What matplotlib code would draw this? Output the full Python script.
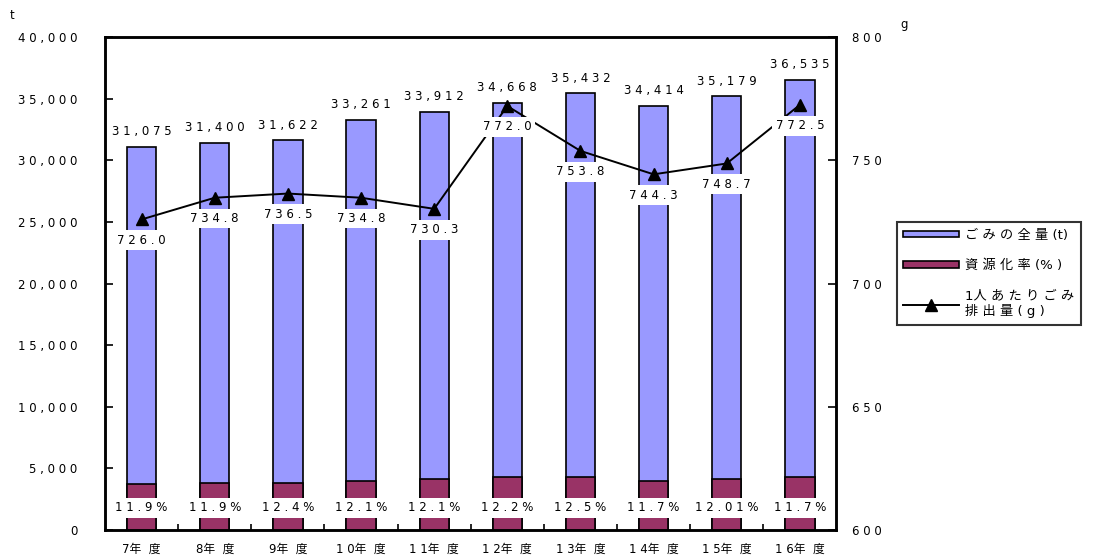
import numpy as np
import matplotlib
matplotlib.use("Agg")
import matplotlib.pyplot as plt
from matplotlib.lines import Line2D
from matplotlib.patches import Patch

plt.rcParams['font.family'] = ['DejaVu Sans', 'Noto Sans CJK JP']

# ======= data =======
years = ['7年度', '8年度', '9年度', '10年度', '11年度', '12年度', '13年度', '14年度', '15年度', '16年度']
total = [31075, 31400, 31622, 33261, 33912, 34668, 35432, 34414, 35179, 36535]
resource = [3700, 3850, 3850, 4000, 4150, 4300, 4300, 4000, 4150, 4300]
rate_labels = ['11.9%', '11.9%', '12.4%', '12.1%', '12.1%', '12.2%', '12.5%', '11.7%', '12.01%', '11.7%']
per_person = [726.0, 734.8, 736.5, 734.8, 730.3, 772.0, 753.8, 744.3, 748.7, 772.5]


def sp(s):
    # excel-like letter spacing
    return ' '.join(s)


blue = '#9999FF'
maroon = '#993366'
fs = 8.5

fig = plt.figure(figsize=(10.95, 5.57), dpi=100)
ax = fig.add_axes([0.0959, 0.0485, 0.668, 0.885])
ax2 = ax.twinx()

x = np.arange(len(years))
bw = 0.4
ax.bar(x, total, bw, color=blue, edgecolor='black', linewidth=1.2, zorder=2)
ax.bar(x, resource, bw, color=maroon, edgecolor='black', linewidth=1.2, zorder=3)

for xi, v in zip(x, total):
    ax.text(xi, v + 700, sp(f'{v:,}'), ha='center', va='bottom', fontsize=fs, zorder=5)

for xi, t in zip(x, rate_labels):
    ax.text(xi, 1800, sp(t), ha='center', va='center', fontsize=fs, zorder=5,
            bbox=dict(facecolor='white', edgecolor='none', pad=2.5))

ax2.plot(x, per_person, color='black', lw=1.4, marker='^', markersize=9, zorder=3)
for xi, v in zip(x, per_person):
    ax2.annotate(sp(f'{v:.1f}'), (xi, v), xytext=(0, -15), textcoords='offset points',
                 ha='center', va='center', fontsize=fs, zorder=6,
                 bbox=dict(facecolor='white', edgecolor='none', pad=2.5))

ax.set_xlim(-0.5, len(years) - 0.5)
ax.set_ylim(0, 40000)
ax2.set_ylim(600, 800)
ax.set_yticks(np.arange(0, 40001, 5000))
ax.set_yticklabels([sp(f'{v:,}') for v in range(0, 40001, 5000)], fontsize=fs)
ax2.set_yticks([600, 650, 700, 750, 800])
ax2.set_yticklabels([sp(str(v)) for v in [600, 650, 700, 750, 800]], fontsize=fs)
ax.set_xticks(x)
ax.set_xticklabels([sp(y[:-2]) + '年  度' for y in years], fontsize=fs)
ax.set_xticks(np.arange(0.5, len(years) - 1, 1), minor=True)
ax.tick_params(axis='x', which='major', length=0, pad=9)
ax.tick_params(axis='x', which='minor', direction='in', length=4, width=1.2)
ax.tick_params(axis='y', direction='in', length=6, width=1.2, pad=20)
ax2.tick_params(axis='y', direction='in', length=6, width=1.2, pad=11)
ax.yaxis.set_zorder(4)

for a in (ax, ax2):
    for s in a.spines.values():
        s.set_linewidth(1.8)

fig.text(0.009, 0.965, 't', fontsize=fs)
fig.text(0.822, 0.95, 'g', fontsize=fs)

handles = [Patch(facecolor=blue, edgecolor='black', linewidth=1.2),
           Patch(facecolor=maroon, edgecolor='black', linewidth=1.2),
           Line2D([0], [0], color='black', lw=1.4, marker='^', markersize=9)]
labels = ['ご み の 全 量 (t)', '資 源 化 率 (% )', '1人 あ た り ご み\n排 出 量 ( g )']
leg = fig.legend(handles, labels, loc='upper left', bbox_to_anchor=(0.819, 0.601),
                 prop={'size': 9.5}, frameon=True, fancybox=False, edgecolor='black',
                 handlelength=4.2, handleheight=0.4, labelspacing=1.3,
                 borderaxespad=0, handletextpad=0.5, borderpad=0.5)
leg.get_frame().set_linewidth(1.5)

fig.savefig('out.png', dpi=100)
